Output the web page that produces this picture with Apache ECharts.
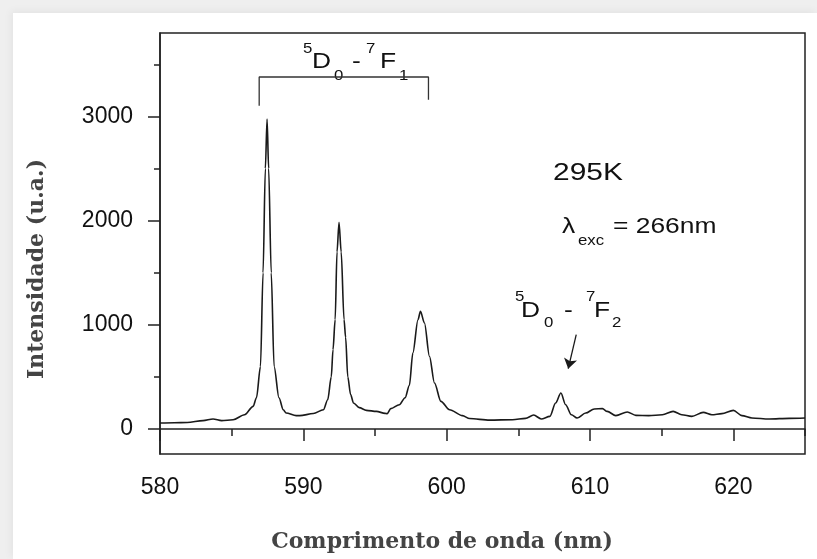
<!DOCTYPE html>
<html>
<head>
<meta charset="utf-8">
<title>Espectro de emissão</title>
<script src="https://cdn.jsdelivr.net/npm/echarts@6/dist/echarts.min.js"></script>
<style>
  html, body { margin: 0; padding: 0; width: 817px; height: 559px; background: #efefef; overflow: hidden; }
  #card { position: absolute; left: 13px; top: 13px; right: 0; bottom: 0; background: #fff; box-shadow: -2px -2px 8px rgba(0, 0, 0, 0.05); }
  #espectro { position: absolute; left: 0; top: 0; width: 817px; height: 559px; }
</style>
</head>
<body>
<div id="card"></div>
<div id="espectro"></div>
<script>
// valores
var comprimentoOnda = [
  580.0, 581.0, 581.9, 583.0, 583.7, 584.3, 585.1, 585.9, 586.5, 586.73,
  587.01, 587.19, 587.35, 587.47, 587.58, 587.76, 587.96, 588.3, 588.6, 588.8,
  589.5, 589.75, 590.7, 591.4, 591.7, 591.95, 592.07, 592.22, 592.35, 592.49,
  592.64, 592.84, 592.95, 593.1, 593.3, 593.5, 593.9, 594.4, 595.1, 595.7,
  595.85, 596.1, 596.7, 597.1, 597.4, 597.64, 598.0, 598.17, 598.45, 598.8,
  599.15, 599.6, 600.2, 601.1, 601.6, 603.0, 604.6, 605.5, 606.07, 606.6,
  607.2, 607.6, 607.97, 608.3, 608.7, 609.1, 609.7, 610.3, 610.87, 611.2,
  611.8, 612.6, 613.2, 614.1, 615.05, 615.8, 616.4, 617.1, 617.9, 618.5,
  619.2, 620.0, 620.6, 621.3, 622.5, 623.9, 625.0
];
var intensidade = [
  57, 60, 63, 80, 96, 80, 89, 137, 217, 300,
  600, 1500, 2500, 2975, 2500, 1500, 600, 300, 185, 153,
  128, 128, 148, 185, 281, 500, 761, 1050, 1700, 1983,
  1700, 1050, 880, 500, 330, 250, 205, 179, 169, 150,
  147, 195, 233, 300, 420, 729, 1049, 1129, 1017, 697,
  441, 265, 185, 128, 100, 85, 89, 102, 134, 96,
  121, 249, 345, 233, 137, 105, 153, 192, 195, 169,
  128, 163, 131, 128, 137, 169, 137, 121, 159, 137,
  147, 179, 128, 106, 96, 102, 105
];
var xTickLabels = [580, 590, 600, 610, 620];
var xMinorTicks = [585, 595, 605, 615, 625];
var yTickLabels = [0, 1000, 2000, 3000];
var yMinorTicks = [500, 1500, 2500, 3500];
// colchete sobre as linhas 5D0-7F1 e seta para 5D0-7F2
var colchete = [[586.92, 3103], [586.92, 3378], [598.73, 3378], [598.73, 3160]];
var seta = [[609.04, 905], [608.48, 579]];

var fonte = 'Liberation Sans';
var corTexto = '#111';

// texto com sobrescritos / subscritos, peca por peca: [texto, x, y, tamanho, escalaX]
function pecas(lista) {
  return lista.map(function (p) {
    return {
      type: 'text',
      x: p[1],
      y: p[2],
      scaleX: p[4] || 1.2,
      style: {
        text: p[0],
        fontSize: p[3],
        fontFamily: fonte,
        fill: corTexto,
        align: 'left',
        verticalAlign: 'middle'
      }
    };
  });
}

var anotacoes = [].concat(
  pecas([
    ['5', 303, 49, 14], ['D', 312, 62, 22], ['0', 334, 76, 14],
    ['-', 352, 62, 22], ['7', 366, 49, 14], ['F', 380, 62, 22], ['1', 399, 76, 14]
  ]),
  pecas([['295K', 553, 174, 23, 1.3]]),
  pecas([['\u03bb', 562, 227, 22], ['exc', 578, 241, 14], ['= 266nm', 613, 227, 22]]),
  pecas([
    ['5', 515, 297, 14], ['D', 521, 311, 22], ['0', 544, 323, 14],
    ['-', 564, 311, 22], ['7', 586, 297, 14], ['F', 594, 311, 22], ['2', 612, 323, 14]
  ])
);

var titulos = [
  {
    type: 'text',
    x: 442,
    y: 542,
    style: {
      text: 'Comprimento de onda (nm)',
      fontSize: 22,
      fontWeight: 'bold',
      fontFamily: 'DejaVu Serif',
      fill: '#444',
      align: 'center',
      verticalAlign: 'middle'
    }
  },
  {
    type: 'text',
    x: 37,
    y: 269,
    rotation: Math.PI / 2,
    style: {
      text: 'Intensidade (u.a.)',
      fontSize: 22,
      fontWeight: 'bold',
      fontFamily: 'DejaVu Serif',
      fill: '#444',
      align: 'center',
      verticalAlign: 'middle'
    }
  }
];

var espectroChart = echarts.init(document.getElementById('espectro'));

var options = {
  animation: false,
  grid: {
    left: 160,
    right: 12,
    top: 33,
    bottom: 105,
    show: true,
    borderColor: '#222',
    borderWidth: 1.5,
    backgroundColor: 'transparent'
  },
  xAxis: [
    {
      type: 'value',
      min: 580,
      max: 625,
      position: 'bottom',
      axisLine: { show: true, lineStyle: { color: '#222', width: 1.5 } },
      axisTick: { show: true, customValues: xTickLabels, length: 12, lineStyle: { color: '#222', width: 1.5 } },
      axisLabel: {
        customValues: xTickLabels,
        margin: 22,
        color: corTexto,
        fontSize: 23,
        fontFamily: fonte,
        formatter: function (v) { return String(v); }
      },
      splitLine: { show: false }
    },
    {
      type: 'value',
      min: 580,
      max: 625,
      position: 'bottom',
      axisLine: { show: false },
      axisTick: { show: true, customValues: xMinorTicks, length: 7, lineStyle: { color: '#222', width: 1.5 } },
      axisLabel: { show: false },
      splitLine: { show: false }
    }
  ],
  yAxis: [
    {
      type: 'value',
      min: -240,
      max: 3800,
      position: 'left',
      axisLine: { show: true, lineStyle: { color: '#222', width: 1.5 } },
      axisTick: { show: true, customValues: yTickLabels, length: 12, lineStyle: { color: '#222', width: 1.5 } },
      axisLabel: {
        customValues: yTickLabels,
        margin: 27,
        color: corTexto,
        fontSize: 23,
        fontFamily: fonte,
        formatter: function (v) { return String(v); }
      },
      splitLine: { show: false }
    },
    {
      type: 'value',
      min: -240,
      max: 3800,
      position: 'left',
      axisLine: { show: false },
      axisTick: { show: true, customValues: yMinorTicks, length: 6, lineStyle: { color: '#222', width: 1.5 } },
      axisLabel: { show: false },
      splitLine: { show: false }
    }
  ],
  series: [
    {
      name: 'Intensidade',
      type: 'line',
      data: comprimentoOnda.map(function (x, i) { return [x, intensidade[i]]; }),
      showSymbol: false,
      smooth: 0.3,
      smoothMonotone: 'x',
      lineStyle: { color: '#1a1a1a', width: 1.6 },
      markLine: {
        silent: true,
        symbol: ['none', 'arrow'],
        symbolSize: 10,
        label: { show: false },
        lineStyle: { color: '#1a1a1a', width: 1.3, type: 'solid' },
        data: [[{ coord: seta[0] }, { coord: seta[1] }]]
      }
    },
    {
      name: 'colchete',
      type: 'line',
      data: colchete,
      showSymbol: false,
      lineStyle: { color: '#333', width: 1.3 }
    }
  ],
  graphic: anotacoes.concat(titulos)
}

espectroChart.setOption(options);
</script>
</body>
</html>
